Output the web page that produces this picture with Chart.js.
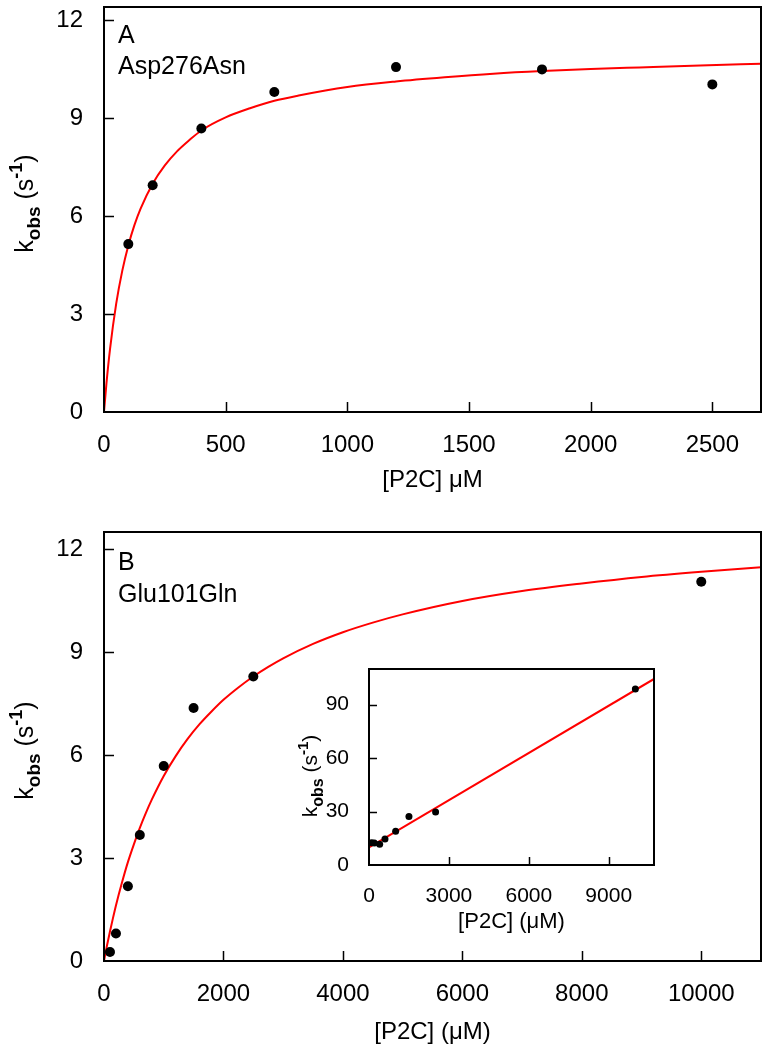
<!DOCTYPE html>
<html><head><meta charset="utf-8">
<script src="https://cdn.jsdelivr.net/npm/chart.js@4/dist/chart.umd.min.js"></script>
<style>
html,body{margin:0;padding:0;background:#fff;}
#wrap{position:relative;width:770px;height:1050px;overflow:hidden;background:#fff;}
canvas{position:absolute;}
</style></head><body>
<div id="wrap">
<canvas id="cA" width="770" height="500" style="left:0;top:0;width:770px;height:500px"></canvas>
<canvas id="cB" width="770" height="550" style="left:0;top:500px;width:770px;height:550px"></canvas>
<canvas id="cI" width="390" height="280" style="left:280px;top:660px;width:390px;height:280px"></canvas>
</div>
<script>
// ---------- data ----------
const concA = [100, 200, 400, 700, 1200, 1800, 2500];
const kobsA = [5.14, 6.94, 8.68, 9.80, 10.56, 10.49, 10.03];
const fitConcA = [0, 10, 25, 50, 75, 100, 125, 150, 200, 250, 300, 350, 400, 500, 600, 700, 800, 1000, 1200, 1400, 1600, 1800, 2000, 2200, 2450, 2700];
const fitKobsA = [0, 0.87, 1.94, 3.31, 4.32, 5.10, 5.72, 6.22, 6.99, 7.55, 7.98, 8.32, 8.62, 9.02, 9.30, 9.53, 9.69, 9.95, 10.12, 10.25, 10.36, 10.44, 10.50, 10.55, 10.61, 10.66];

const concB = [100, 200, 400, 600, 1000, 1500, 2500, 10000];
const kobsB = [0.26, 0.80, 2.18, 3.67, 5.68, 7.37, 8.29, 11.05];
const fitConcB = [0, 25, 50, 100, 150, 200, 300, 400, 500, 600, 700, 800, 1000, 1200, 1400, 1600, 1800, 2000, 2250, 2500, 2750, 3000, 3500, 4000, 4500, 5000, 6000, 7000, 8000, 9000, 10000, 11000];
const fitKobsB = [0, 0.23, 0.45, 0.86, 1.25, 1.62, 2.28, 2.88, 3.40, 3.88, 4.31, 4.70, 5.39, 5.97, 6.47, 6.90, 7.27, 7.61, 7.97, 8.29, 8.57, 8.82, 9.24, 9.58, 9.86, 10.10, 10.49, 10.78, 11.00, 11.19, 11.34, 11.47];

const concInset = [100, 200, 400, 600, 1000, 1500, 2500, 10000];
const kobsInset = [12.5, 12.4, 11.6, 14.6, 18.9, 27.2, 29.7, 98.8];
const fitConcInset = [0, 10700];
const fitKobsInset = [9.9, 104.4];

const ticksAx = [0, 500, 1000, 1500, 2000, 2500];
const ticksAy = [0, 3, 6, 9, 12];
const ticksBx = [0, 2000, 4000, 6000, 8000, 10000];
const ticksBy = [0, 3, 6, 9, 12];
const ticksIx = [0, 3000, 6000, 9000];
const ticksIy = [0, 30, 60, 90];

const labelA = ['A', 'Asp276Asn'];
const labelB = ['B', 'Glu101Gln'];
const xTitleA = '[P2C] \u03BCM';
const xTitleB = '[P2C] (\u03BCM)';

// ---------- helpers ----------
const FF = '"Liberation Sans", Arial, Helvetica, sans-serif';
const pts = (xs, ys) => xs.map((v, i) => ({x: v, y: ys[i]}));

function drawKobs(ctx, bx, cy, s) {
  const segs = [
    {t: 'k', f: `${s}px ${FF}`, dy: 0},
    {t: 'obs', f: `bold ${Math.round(s*0.74)}px ${FF}`, dy: Math.round(s*0.27)},
    {t: ' (s', f: `${s}px ${FF}`, dy: 0},
    {t: '-1', f: `bold ${Math.round(s*0.7)}px ${FF}`, dy: -Math.round(s*0.42)},
    {t: ')', f: `${s}px ${FF}`, dy: 0}
  ];
  ctx.save();
  ctx.translate(bx, cy);
  ctx.rotate(-Math.PI / 2);
  ctx.fillStyle = '#000';
  ctx.textBaseline = 'alphabetic';
  ctx.textAlign = 'left';
  let total = 0;
  segs.forEach(g => { ctx.font = g.f; g.w = ctx.measureText(g.t).width; total += g.w; });
  let x = -total / 2;
  segs.forEach(g => { ctx.font = g.f; ctx.fillText(g.t, x, g.dy); x += g.w; });
  ctx.restore();
}

const framePlugin = {
  id: 'framePlugin',
  afterDatasetsDraw(chart, args, o) {
    const {ctx, chartArea: a, scales: {x, y}} = chart;
    ctx.save();
    ctx.strokeStyle = '#000';
    ctx.lineWidth = o.lw;
    ctx.strokeRect(a.left, a.top, a.right - a.left, a.bottom - a.top);
    ctx.lineWidth = o.tw;
    ctx.beginPath();
    x.ticks.forEach(t => { if (t.value === x.min) return; const p = Math.round(x.getPixelForValue(t.value)) + 0.5; ctx.moveTo(p, a.bottom); ctx.lineTo(p, a.bottom - o.tl); });
    y.ticks.forEach(t => { if (t.value === y.min) return; const p = Math.round(y.getPixelForValue(t.value)) + 0.5; ctx.moveTo(a.left, p); ctx.lineTo(a.left + o.tl, p); });
    ctx.stroke();
    // x title
    ctx.fillStyle = '#000';
    ctx.font = `${o.xs}px ${FF}`;
    ctx.textAlign = 'center';
    ctx.textBaseline = 'middle';
    ctx.fillText(o.xTitle, (a.left + a.right) / 2, a.bottom + o.xOff);
    // y title
    drawKobs(ctx, a.left - o.yOff, (a.top + a.bottom) / 2 + (o.yShift || 0), o.ys);
    // panel labels
    if (o.labels) {
      ctx.textAlign = 'left';
      ctx.textBaseline = 'alphabetic';
      ctx.font = `${o.ls}px ${FF}`;
      ctx.fillText(o.labels[0], a.left + 14, a.top + o.l1);
      ctx.fillText(o.labels[1], a.left + 14, a.top + o.l2);
    }
    ctx.restore();
  }
};

function makeChart(id, cfg) {
  const xf = (sc) => { sc.height = cfg.xh; sc.paddingLeft = 0; sc.paddingRight = 0; };
  const yf = (sc) => { sc.width = cfg.yw; sc.paddingTop = 0; sc.paddingBottom = 0; };
  return new Chart(document.getElementById(id), {
    type: 'scatter',
    data: {
      datasets: [
        {data: pts(cfg.px, cfg.py), pointRadius: cfg.pr, pointHoverRadius: cfg.pr, backgroundColor: '#000', borderColor: '#000', borderWidth: 0, showLine: false},
        {data: pts(cfg.fx, cfg.fy), showLine: true, pointRadius: 0, borderColor: '#ff0000', borderWidth: cfg.lw, cubicInterpolationMode: 'monotone', fill: false}
      ]
    },
    options: {
      responsive: false, animation: false, devicePixelRatio: 1,
      layout: {padding: cfg.pad},
      plugins: {legend: {display: false}, tooltip: {enabled: false},
        framePlugin: cfg.frame},
      scales: {
        x: {type: 'linear', min: cfg.xmin, max: cfg.xmax,
          afterBuildTicks: sc => { sc.ticks = cfg.tx.map(v => ({value: v})); },
          afterFit: xf,
          grid: {display: false}, border: {display: false},
          ticks: {padding: cfg.xpad, color: '#000', font: {family: FF, size: cfg.fs}, maxRotation: 0, autoSkip: false, callback: v => String(v)}},
        y: {type: 'linear', min: cfg.ymin, max: cfg.ymax,
          afterBuildTicks: sc => { sc.ticks = cfg.ty.map(v => ({value: v})); },
          afterFit: yf,
          grid: {display: false}, border: {display: false},
          ticks: {padding: cfg.ypad, color: '#000', font: {family: FF, size: cfg.fs}, autoSkip: false, callback: v => String(v)}}
      }
    },
    plugins: [framePlugin]
  });
}

makeChart('cA', {
  px: concA, py: kobsA, fx: fitConcA, fy: fitKobsA, tx: ticksAx, ty: ticksAy,
  xmin: 0, xmax: 2700, ymin: 0, ymax: 12.4,
  pad: {left: 0, right: 9, top: 7, bottom: 0}, xh: 88, yw: 104, pr: 5, lw: 2,
  fs: 24, xpad: 11, ypad: 13,
  frame: {lw: 2, tw: 1.5, tl: 10, xTitle: xTitleA, xs: 24, xOff: 68, yOff: 71, ys: 25, yShift: -6,
    labels: labelA, ls: 25, l1: 36, l2: 67}
});
makeChart('cB', {
  px: concB, py: kobsB, fx: fitConcB, fy: fitKobsB, tx: ticksBx, ty: ticksBy,
  xmin: 0, xmax: 11000, ymin: 0, ymax: 12.5,
  pad: {left: 0, right: 9, top: 32, bottom: 0}, xh: 89, yw: 104, pr: 5, lw: 2,
  fs: 24, xpad: 11, ypad: 13,
  frame: {lw: 2, tw: 1.5, tl: 10, xTitle: xTitleB, xs: 24, xOff: 71, yOff: 71, ys: 25, yShift: 4,
    labels: labelB, ls: 25, l1: 38, l2: 70}
});
makeChart('cI', {
  px: concInset, py: kobsInset, fx: fitConcInset, fy: fitKobsInset, tx: ticksIx, ty: ticksIy,
  xmin: 0, xmax: 10700, ymin: 0, ymax: 110,
  pad: {left: 0, right: 16, top: 9, bottom: 0}, xh: 75, yw: 89, pr: 3.5, lw: 2,
  fs: 21, xpad: 11, ypad: 12,
  frame: {lw: 2, tw: 1.5, tl: 8, xTitle: xTitleB, xs: 22, xOff: 57, yOff: 52, ys: 21, yShift: 9}
});
</script>
</body></html>
